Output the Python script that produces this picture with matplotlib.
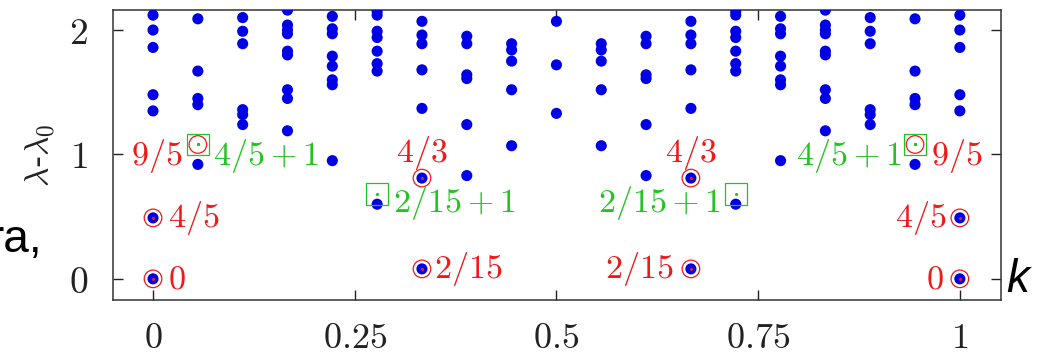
import matplotlib.pyplot as plt
import numpy as np

plt.rcParams['mathtext.fontset'] = 'cm'

# momentum columns k = j/18 and the levels read in each column
k_cols = [0, 1/18, 2/18, 3/18, 4/18, 5/18, 6/18, 7/18, 8/18, 9/18,
          10/18, 11/18, 12/18, 13/18, 14/18, 15/18, 16/18, 17/18, 1]
levels = [
    [0.0, 0.49, 1.35, 1.48, 1.86, 2.00, 2.12],
    [0.92, 1.40, 1.45, 1.67, 2.09],
    [1.24, 1.32, 1.36, 1.89, 1.99, 2.10],
    [1.19, 1.45, 1.52, 1.80, 1.83, 1.97, 2.00, 2.04, 2.16],
    [0.95, 1.56, 1.60, 1.71, 1.79, 1.97, 2.01, 2.11],
    [0.60, 1.67, 1.73, 1.83, 1.94, 1.99, 2.12, 2.15],
    [0.08, 0.81, 1.37, 1.68, 1.89, 1.96, 2.07],
    [0.83, 1.24, 1.61, 1.64, 1.89, 1.95],
    [1.07, 1.52, 1.75, 1.84, 1.89],
    [1.33, 1.72, 2.07],
    [1.07, 1.52, 1.75, 1.84, 1.89],
    [0.83, 1.24, 1.61, 1.64, 1.89, 1.95],
    [0.08, 0.81, 1.37, 1.68, 1.89, 1.96, 2.07],
    [0.60, 1.67, 1.73, 1.83, 1.94, 1.99, 2.12, 2.15],
    [0.95, 1.56, 1.60, 1.71, 1.79, 1.97, 2.01, 2.11],
    [1.19, 1.45, 1.52, 1.80, 1.83, 1.97, 2.00, 2.04, 2.16],
    [1.24, 1.32, 1.36, 1.89, 1.99, 2.10],
    [0.92, 1.40, 1.45, 1.67, 2.09],
    [0.0, 0.49, 1.35, 1.48, 1.86, 2.00, 2.12],
]

# CFT predictions: red circles (primaries) and green squares (descendants)
circ_k = [0, 0, 1/18, 6/18, 6/18, 12/18, 12/18, 17/18, 1, 1]
circ_y = [0.0, 0.49, 1.08, 0.81, 0.08, 0.81, 0.08, 1.08, 0.49, 0.0]
circ_lab = ["0", "4/5", "9/5", "4/3", "2/15", "4/3", "2/15", "9/5", "4/5", "0"]

sq_k = [1/18, 5/18, 13/18, 17/18]
sq_y = [1.08, 0.68, 0.68, 1.08]
sq_lab = ["4/5+1", "2/15+1", "2/15+1", "4/5+1"]

xticks = [0, 0.25, 0.5, 0.75, 1]
xtick_lab = ["0", "0.25", "0.5", "0.75", "1"]
yticks = [0, 1, 2]
ytick_lab = ["0", "1", "2"]

# label offsets in pixels (dx, dy, ha)
circ_off = [(15, 0, 'left'), (15, 0, 'left'), (-15, -12, 'right'),
            (0, 25, 'center'), (12, 0, 'left'), (0, 25, 'center'),
            (-17, 0, 'right'), (16, -12, 'left'), (-13, 0, 'right'),
            (-16, 0, 'right')]
sq_off = [(15, -12, 'left'), (16, -9, 'left'), (-15, -9, 'right'),
          (-13, -12, 'right')]

RED = '#f01818'
GREEN = '#22c422'
BLUE = '#0000e6'

fig = plt.figure(figsize=(10.48, 3.55), dpi=100)
ax = fig.add_axes([113/1048, 1 - 300/355, (1001-113)/1048, (300-9.5)/355])

px = np.concatenate([[k] * len(v) for k, v in zip(k_cols, levels)])
py = np.concatenate(levels)
ax.scatter(px, py, s=64, color=BLUE, edgecolors='none', zorder=3)

ax.scatter(circ_k, circ_y, s=160, facecolors='none', edgecolors=RED,
           linewidths=0.9, zorder=4)
ax.scatter(circ_k, circ_y, s=1.5, color=RED, zorder=5)
ax.scatter(sq_k, sq_y, marker='s', s=250, facecolors='none',
           edgecolors=GREEN, linewidths=0.9, zorder=4)
ax.scatter(sq_k, sq_y, s=1.5, color=GREEN, zorder=5)

for k, y, t, (dx, dy, ha) in zip(circ_k, circ_y, circ_lab, circ_off):
    ax.annotate('$%s$' % t, (k, y), xytext=(dx * 0.72, dy * 0.72),
                textcoords='offset points', ha=ha, va='center',
                color=RED, fontsize=24.5, zorder=6)
for k, y, t, (dx, dy, ha) in zip(sq_k, sq_y, sq_lab, sq_off):
    ax.annotate('$%s$' % t, (k, y), xytext=(dx * 0.72, dy * 0.72),
                textcoords='offset points', ha=ha, va='center',
                color=GREEN, fontsize=24.5, zorder=6)

ax.set_xlim(-0.0496, 1.051)
ax.set_ylim(-0.17, 2.165)
ax.set_xticks(xticks)
ax.set_xticklabels(['$%s$' % t for t in xtick_lab])
ax.set_yticks(yticks)
ax.set_yticklabels(['$%s$' % t for t in ytick_lab])
ax.tick_params(direction='in', length=7, width=1, top=True, right=True,
               labelsize=27, colors='#222222')
ax.tick_params(axis='x', pad=15, labelsize=26)
ax.tick_params(axis='y', pad=18)
for s in ax.spines.values():
    s.set_linewidth(1.1)
    s.set_color('#333333')

fig.text(40/1048, 1 - 155/355, r'$\lambda$-$\lambda_0$', rotation=90,
         ha='center', va='center', fontsize=24, color='#222222')
fig.text(1006/1048, 1 - 280/355, 'k', style='italic', family='Liberation Sans',
         ha='left', va='center', fontsize=33)
fig.text(42/1048, 1 - 252/355, 'ra,', family='Liberation Sans',
         ha='right', va='baseline', fontsize=33)

fig.savefig('out.png', dpi=100)
